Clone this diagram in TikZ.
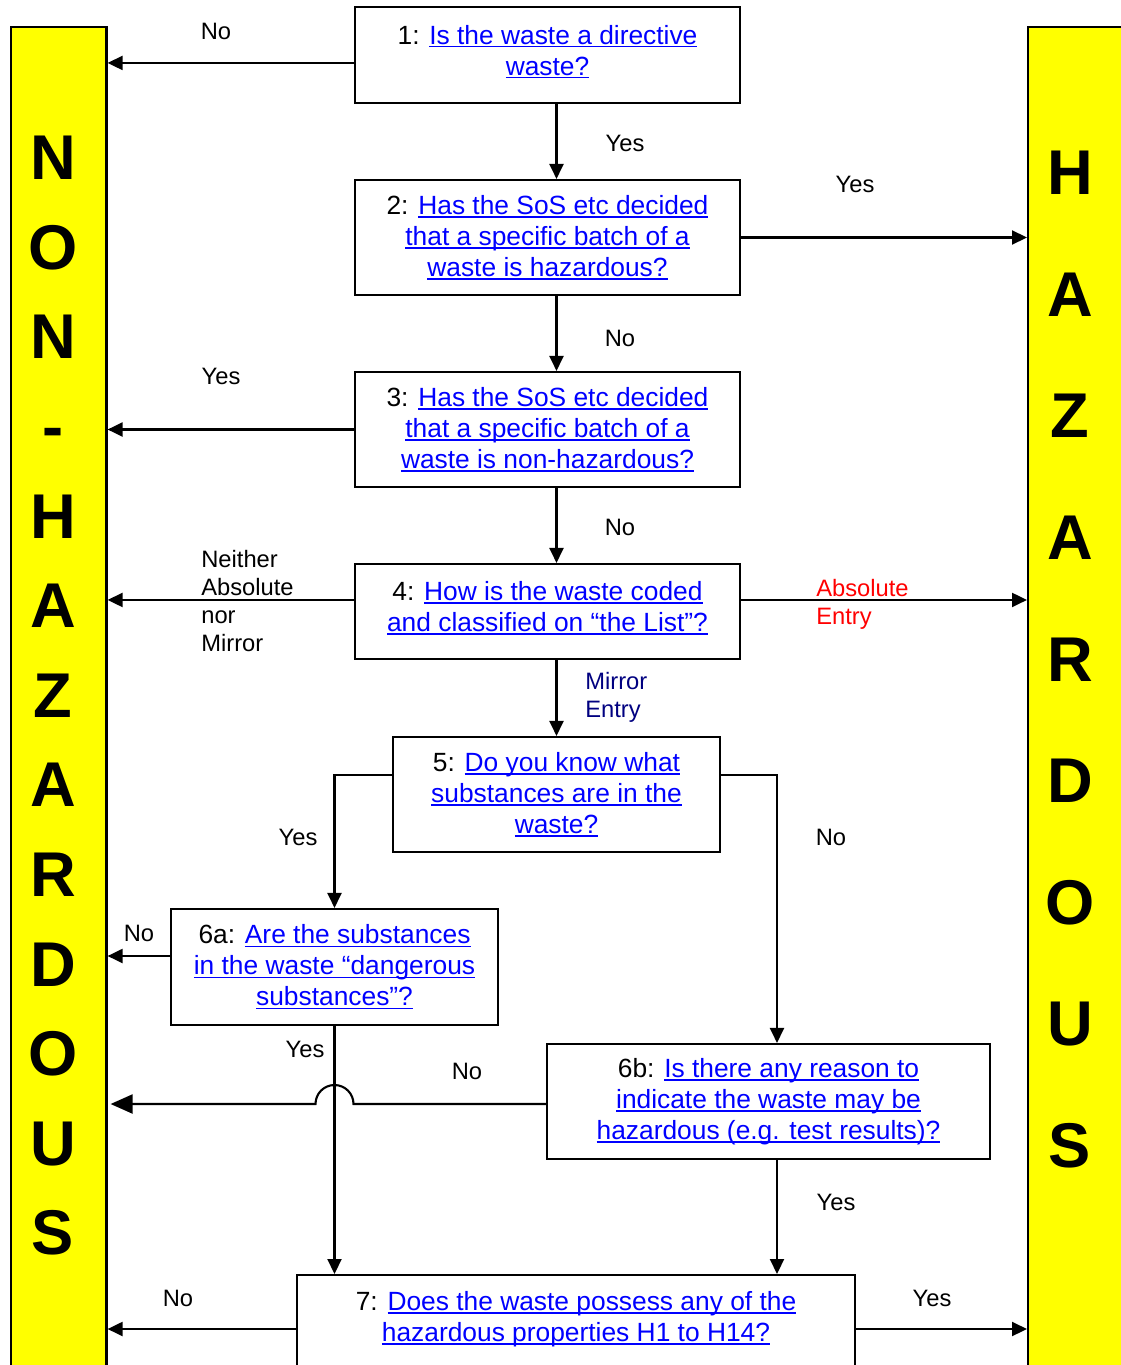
\documentclass[tikz,border=0pt]{standalone}
\usepackage{fontspec}
\setmainfont{Liberation Sans}
\usetikzlibrary{arrows.meta,calc}
\definecolor{linkblue}{RGB}{0,0,255}
\definecolor{mirrorblue}{RGB}{0,0,128}
\definecolor{baryellow}{RGB}{255,255,0}
\newsavebox{\lnkbox}
\newcommand{\lnk}[1]{{\color{linkblue}\sbox{\lnkbox}{#1}\rlap{\rule[-1.9pt]{\wd\lnkbox}{0.9pt}}\usebox{\lnkbox}}}
\tikzset{
	question node/.style={rectangle, draw, line width=1.2pt, align=center, inner sep=0pt, font=\fontsize{15}{17.6}\selectfont},
	bar node/.style={rectangle, draw, line width=1.2pt, fill=baryellow, minimum width=1.92cm, minimum height=28cm},
	bar letter/.style={font=\fontsize{36}{36}\selectfont\bfseries, text height=25.8pt, text depth=0pt, inner sep=0pt},
	answer/.style={align=left, inner sep=0pt, font=\fontsize{13.5}{15.8}\selectfont},
	flow/.style={line width=1.2pt, -{Triangle[length=0.3cm, width=0.28cm]}},
	hop flow/.style={line width=1.2pt, -{Triangle[length=0.44cm, width=0.38cm]}, shorten >=0.06cm},
}

\begin{document}
\begin{tikzpicture}[x=0.02cm, y=-0.02cm]
\useasboundingbox (0,0) rectangle (1121,1365);
\clip (0,0) rectangle (1121,1365);

% side bars
\node[bar node, anchor=north west] (nonhaz) at (9.5,26) {};
\node[bar node, anchor=north west] (haz) at (1027,26) {};
\foreach \ch [count=\i] in {N,O,N,-,H,A,Z,A,R,D,O,U,S}
	\node[bar letter] (nl\i) at (53,{157+89.6*(\i-1)}) {\ch};
\foreach \ch [count=\i] in {H,A,Z,A,R,D,O,U,S}
	\node[bar letter] (hl\i) at (1070,{172+121.6*(\i-1)}) {\ch};

% questions
\node[question node, minimum width=7.7cm, minimum height=1.92cm, text depth=0.2cm] (q1) at (547.5,55)
	{1: \lnk{Is the waste a directive}\\\lnk{waste?}};
\node[question node, minimum width=7.7cm, minimum height=2.3cm] (q2) at (547.5,237.5)
	{2: \lnk{Has the SoS etc decided}\\\lnk{that a specific batch of a}\\\lnk{waste is hazardous?}};
\node[question node, minimum width=7.7cm, minimum height=2.3cm] (q3) at (547.5,429.5)
	{3: \lnk{Has the SoS etc decided}\\\lnk{that a specific batch of a}\\\lnk{waste is non-hazardous?}};
\node[question node, minimum width=7.7cm, minimum height=1.9cm, text depth=0.2cm] (q4) at (547.5,611.5)
	{4: \lnk{How is the waste coded}\\\lnk{and classified on “the List”?}};
\node[question node, minimum width=6.54cm, minimum height=2.3cm] (q5) at (556.5,794.5)
	{5: \lnk{Do you know what}\\\lnk{substances are in the}\\\lnk{waste?}};
\node[question node, minimum width=6.54cm, minimum height=2.32cm] (q6a) at (334.5,967)
	{6a: \lnk{Are the substances}\\\lnk{in the waste “dangerous}\\\lnk{substances”?}};
\node[question node, minimum width=8.86cm, minimum height=2.3cm] (q6b) at (768.5,1101.5)
	{6b: \lnk{Is there any reason to}\\\lnk{indicate the waste may be}\\\lnk{hazardous (e.g. test results)?}};
\node[question node, minimum width=11.16cm, inner ysep=0.33cm, text depth=2.5cm, anchor=north] (q7) at (576,1274)
	{7: \lnk{Does the waste possess any of the}\\\lnk{hazardous properties H1 to H14?}};

% connectors
\coordinate (a1) at ($(q1.north west)+(0,57)$);
\draw[flow] (a1) -- (a1 -| nonhaz.east);
\draw[flow] (q1.south -| q5) -- (q2.north -| q5);
\draw[flow] (q2.east) -- (q2.east -| haz.west);
\draw[flow] (q2.south -| q5) -- (q3.north -| q5);
\draw[flow] (q3.west) -- (q3.west -| nonhaz.east);
\draw[flow] (q3.south -| q5) -- (q4.north -| q5);
\coordinate (a4) at ($(q4.north west)+(0,37)$);
\draw[flow] (a4) -- (a4 -| nonhaz.east);
\draw[flow] (a4 -| q4.east) -- (a4 -| haz.west);
\draw[flow] (q4.south -| q5) -- (q5.north);
\coordinate (a5) at ($(q5.west)+(0,-19.5)$);
\draw[flow] (a5) -| (q6a.north);
\draw[flow] (a5 -| q5.east) -| ($(q6b.north)+(8.5,0)$);
\coordinate (a6a) at ($(q6a.west)+(0,-11)$);
\draw[flow] (a6a) -- (a6a -| nonhaz.east);
\draw[flow] (q6a.south) -- (q6a.south |- q7.north);
\coordinate (a6b) at ($(q6b.west)+(0,2.5)$);
\coordinate (hop) at (a6b -| q6a.south);
\draw[hop flow] (a6b) -- ($(hop)+(19,0)$) arc[start angle=0, end angle=180, radius=0.38cm] -- (a6b -| nonhaz.east);
\coordinate (b6b) at ($(q6b.south)+(8.5,0)$);
\draw[flow] (b6b) -- (b6b |- q7.north);
\coordinate (a7) at ($(q7.north west)+(0,55)$);
\draw[flow] (a7) -- (a7 -| nonhaz.east);
\draw[flow] (a7 -| q7.east) -- (a7 -| haz.west);

% answers
\node[answer] (l1) at (216,31) {No};
\node[answer] (l2) at (625,143) {Yes};
\node[answer] (l3) at (855,184) {Yes};
\node[answer] (l4) at (620,338) {No};
\node[answer] (l5) at (221,376) {Yes};
\node[answer] (l6) at (620,527) {No};
\node[answer, anchor=west] (l7) at (201,601) {Neither\\Absolute\\nor\\Mirror};
\node[answer, anchor=west, text=red] (l8) at (816,604) {Absolute\\Entry};
\node[answer, anchor=west, text=mirrorblue] (l9) at (585,697) {Mirror\\Entry};
\node[answer] (l10) at (298,837) {Yes};
\node[answer] (l11) at (831,837) {No};
\node[answer] (l12) at (139,933) {No};
\node[answer] (l13) at (305,1049) {Yes};
\node[answer] (l14) at (467,1071) {No};
\node[answer] (l15) at (836,1202) {Yes};
\node[answer] (l16) at (178,1298) {No};
\node[answer] (l17) at (932,1298) {Yes};
\end{tikzpicture}
\end{document}
